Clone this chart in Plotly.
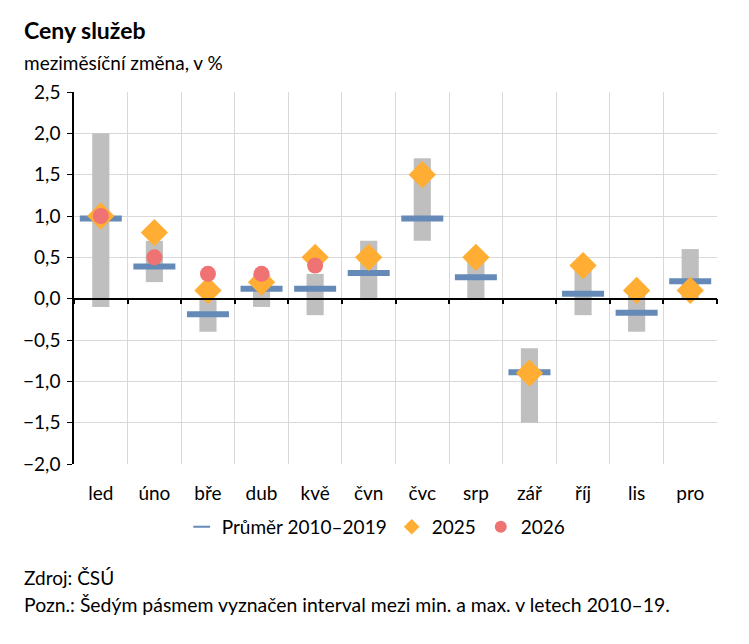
import plotly.graph_objects as go

months = ["led", "úno", "bře", "dub", "kvě", "čvn", "čvc", "srp", "zář", "říj", "lis", "pro"]
range_min = [-0.1, 0.2, -0.4, -0.1, -0.2, 0.0, 0.7, 0.0, -1.5, -0.2, -0.4, 0.0]
range_max = [2.0, 0.7, 0.0, 0.3, 0.3, 0.7, 1.7, 0.5, -0.6, 0.4, 0.1, 0.6]
avg_2010_2019 = [0.97, 0.39, -0.19, 0.12, 0.12, 0.31, 0.97, 0.26, -0.89, 0.06, -0.17, 0.21]
y2025 = [1.0, 0.8, 0.1, 0.2, 0.5, 0.5, 1.5, 0.5, -0.9, 0.4, 0.1, 0.1]
y2026 = [1.0, 0.5, 0.3, 0.3, 0.4]

FONT = "Lato"
x_idx = list(range(len(months)))

fig = go.Figure()

# grey band min-max 2010-19
fig.add_trace(go.Bar(
    x=x_idx, y=[hi - lo for lo, hi in zip(range_min, range_max)], base=range_min,
    width=0.32, marker=dict(color="#bfbfbf", line=dict(width=0)),
    showlegend=False, hoverinfo="skip"))

fig.add_trace(go.Scatter(
    x=x_idx, y=avg_2010_2019, mode="markers", name="Průměr 2010–2019",
    marker=dict(symbol="line-ew", size=30, line=dict(color="#658ab8", width=6))))

fig.add_trace(go.Scatter(
    x=x_idx, y=y2025, mode="markers", name="2025",
    marker=dict(symbol="diamond", size=21, color="#ffad33")))

fig.add_trace(go.Scatter(
    x=x_idx[:len(y2026)], y=y2026, mode="markers", name="2026",
    marker=dict(symbol="circle", size=16, color="#f07373")))

# empty trace so the axis along zero gets drawn
fig.add_trace(go.Scatter(x=[], y=[], xaxis="x2", showlegend=False))

ymin, ymax = -2.0, 2.5

# page body adds 8px offset, so the figure is a bit smaller than the window
fig.update_layout(
    width=741, height=636,
    margin=dict(l=66, r=32, t=84, b=180),
    paper_bgcolor="white", plot_bgcolor="white",
    font=dict(family=FONT, size=19, color="#000000"),
    separators=", ",
    barmode="overlay",
    showlegend=True,
    legend=dict(orientation="h", x=0.47, xanchor="center", y=-0.169, yanchor="middle",
                font=dict(size=19), itemwidth=30, itemsizing="constant",
                traceorder="normal"),
    xaxis=dict(range=[-0.5, 11.5], tickvals=x_idx, ticktext=months,
               showgrid=False, showline=False, ticks="", zeroline=False,
               tickfont=dict(size=19), ticklabelstandoff=16),
    xaxis2=dict(range=[-0.5, 11.5], overlaying="x", anchor="free",
                position=(0 - ymin) / (ymax - ymin),
                tickvals=[i - 0.5 for i in range(13)], showticklabels=False,
                ticks="outside", ticklen=5, tickcolor="black", tickwidth=1.5,
                showline=True, linecolor="black", linewidth=1.5,
                showgrid=True, gridcolor="#d9d9d9", gridwidth=1, zeroline=False),
    yaxis=dict(range=[ymin, ymax], dtick=0.5, tick0=0, tickformat=".1f",
               showgrid=True, gridcolor="#d9d9d9", gridwidth=1,
               showline=True, linecolor="black", linewidth=1.5,
               ticks="outside", ticklen=5, tickcolor="black", zeroline=False,
               tickfont=dict(size=19), ticklabelstandoff=3),
)

fig.add_annotation(text="<b>Ceny služeb</b>", xref="paper", yref="paper",
                   x=-0.081, y=1.167, xanchor="left", yanchor="middle",
                   showarrow=False, font=dict(size=23))
fig.add_annotation(text="meziměsíční změna, v %", xref="paper", yref="paper",
                   x=-0.081, y=1.078, xanchor="left", yanchor="middle",
                   showarrow=False, font=dict(size=19))
fig.add_annotation(text="Zdroj: ČSÚ", xref="paper", yref="paper",
                   x=-0.081, y=-0.304, xanchor="left", yanchor="middle",
                   showarrow=False, font=dict(size=19))
fig.add_annotation(text="Pozn.: Šedým pásmem vyznačen interval mezi min. a max. v letech 2010–19.",
                   xref="paper", yref="paper",
                   x=-0.081, y=-0.379, xanchor="left", yanchor="middle",
                   showarrow=False, font=dict(size=19.4))

fig.write_html("out.html")
